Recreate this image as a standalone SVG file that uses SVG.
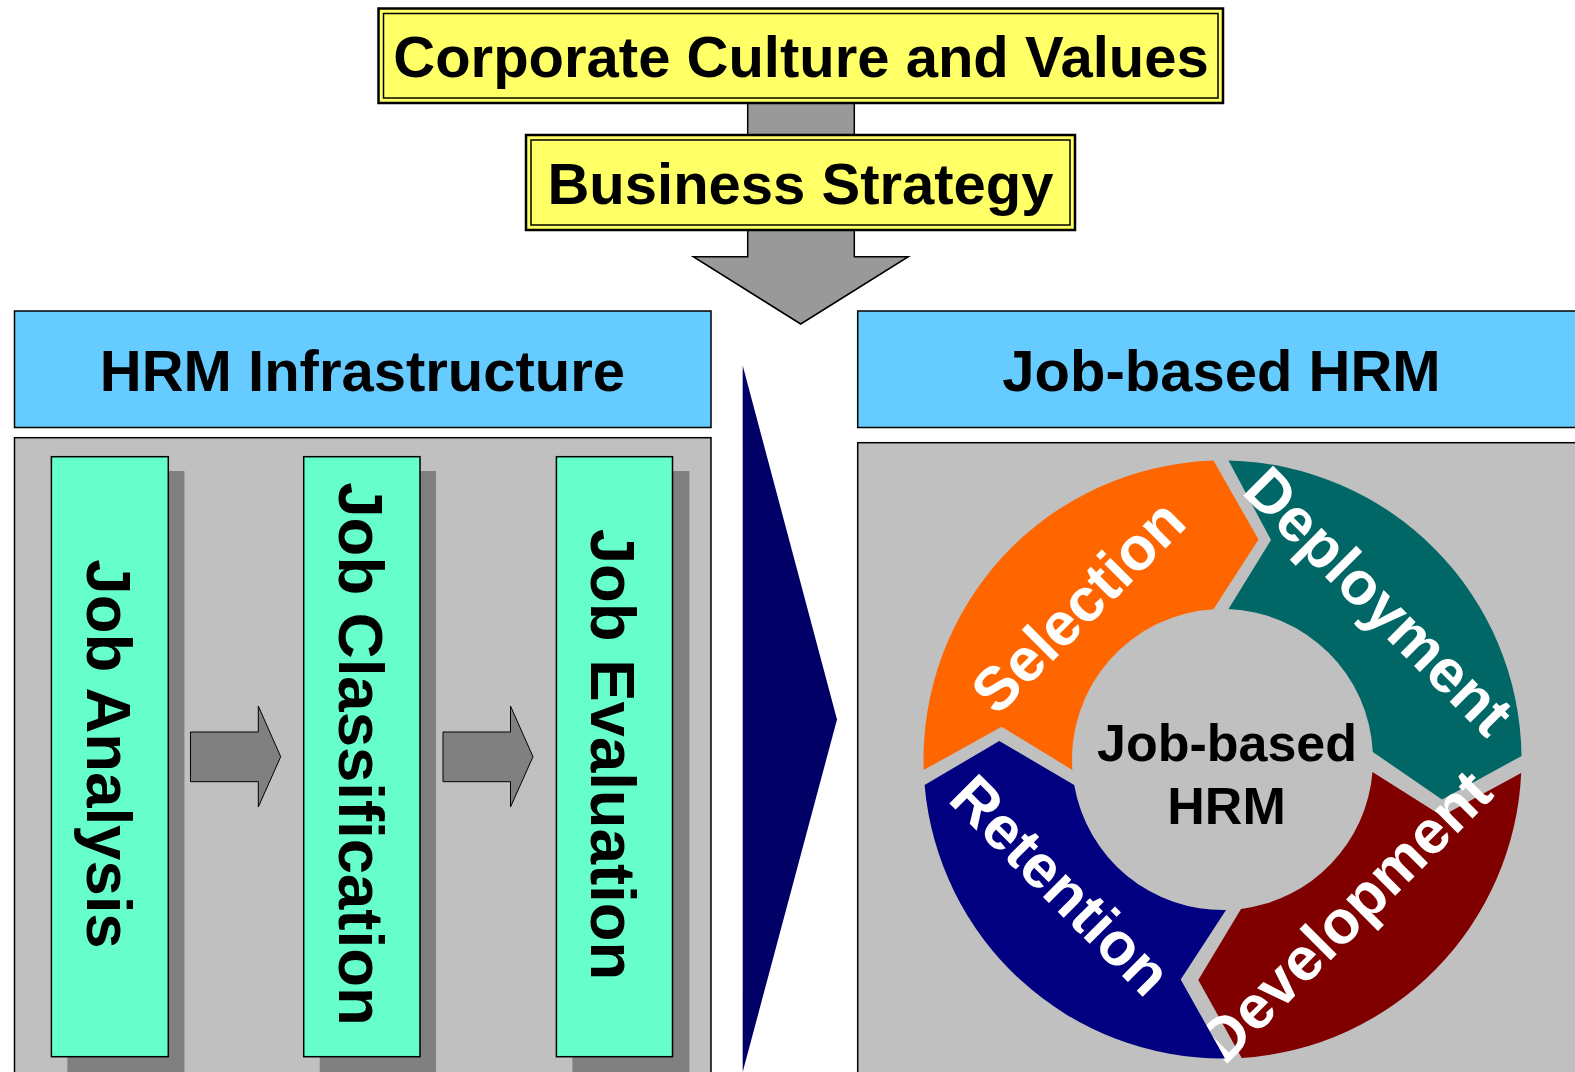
<svg xmlns="http://www.w3.org/2000/svg" width="1575" height="1072" viewBox="0 0 1575 1072">
<style>
text{font-family:"Liberation Sans",Arial,sans-serif;font-weight:bold;}
.ttl{font-size:58px;fill:#000;text-anchor:middle;}
.col{font-size:63.5px;fill:#000;text-anchor:middle;}
.ring{font-size:61px;fill:#fff;text-anchor:middle;}
.ctr{font-size:52px;fill:#000;text-anchor:middle;}
.yel{fill:#FFFF66;stroke:#000;}
.hdr{fill:#66CCFF;stroke:#000;stroke-width:1.5;}
.pnl{fill:#C0C0C0;stroke:#000;stroke-width:1.5;}
.colbox{fill:#66FFCC;stroke:#000;stroke-width:1.5;}
.shd{fill:#808080;}
.garr{fill:#999999;stroke:#000;stroke-width:1.5;stroke-linejoin:miter;}
.sarr{fill:#808080;stroke:#000;stroke-width:1;}
</style>

<g id="connectors">
  <rect class="garr" x="747.7" y="103" width="106.6" height="32"/>
  <path class="garr" d="M747.7,229 L747.7,256.7 L693.3,256.7 L800.7,324 L908.3,256.7 L854.3,256.7 L854.3,229"/>
  <path id="navy-arrow" d="M742.7,365.6 L837,719.4 L742.7,1072 Z" fill="#000066"/>
</g>

<g id="node-culture">
  <rect class="yel" x="378.5" y="8.5" width="844.5" height="94.5" stroke-width="2.5"/>
  <rect x="383.5" y="13.5" width="834.5" height="84.5" fill="none" stroke="#000" stroke-width="1.5"/>
  <text class="ttl" x="801" y="77.3">Corporate Culture and Values</text>
</g>

<g id="node-strategy">
  <rect class="yel" x="526" y="135" width="549" height="95" stroke-width="2.5"/>
  <rect x="531" y="140" width="539" height="85" fill="none" stroke="#000" stroke-width="1.5"/>
  <text class="ttl" x="800.5" y="204">Business Strategy</text>
</g>

<g id="node-hrm-infrastructure">
  <rect class="hdr" x="14.5" y="311" width="696.5" height="116.5"/>
  <text class="ttl" x="362.5" y="390.7">HRM Infrastructure</text>
  <rect class="pnl" x="14.5" y="437.7" width="696.5" height="650"/>
</g>

<g id="node-job-analysis">
  <rect class="shd" x="67.4" y="471" width="117" height="610"/>
  <rect class="colbox" x="51.4" y="456.7" width="116.9" height="600"/>
  <text class="col" transform="translate(87,754) rotate(90)">Job Analysis</text>
</g>
<g id="node-job-classification">
  <rect class="shd" x="319.7" y="471" width="116.3" height="610"/>
  <rect class="colbox" x="303.7" y="456.7" width="116.3" height="600"/>
  <text class="col" transform="translate(339,754) rotate(90)">Job Classification</text>
</g>
<g id="node-job-evaluation">
  <rect class="shd" x="572.4" y="471" width="117" height="610"/>
  <rect class="colbox" x="556.4" y="456.7" width="116.1" height="600"/>
  <text class="col" transform="translate(591,754.5) rotate(90)">Job Evaluation</text>
</g>

<g id="flow-arrows">
  <path class="sarr" d="M190.5,732 L258.3,732 L258.3,706 L280.7,756.7 L258.3,807 L258.3,781.7 L190.5,781.7 Z"/>
  <path class="sarr" d="M443,732 L510.5,732 L510.5,706 L533,756.7 L510.5,807 L510.5,781.7 L443,781.7 Z"/>
</g>

<g id="node-job-based-hrm">
  <rect class="hdr" x="857.7" y="311" width="740" height="116.5"/>
  <text class="ttl" x="1221.5" y="390.7">Job-based HRM</text>
  <rect class="pnl" x="857.7" y="442.7" width="740" height="650"/>
</g>

<g id="node-selection">
  <path fill="#FF6600" d="M923.7,770 A299,299 0 0 1 1213.5,460.6 L1258.5,539.5 L1213.5,609.3 A150.5,150.5 0 0 0 1072.4,770 L1001.7,726.7 Z"/>
  <text class="ring" transform="translate(1093,621) rotate(-45)">Selection</text>
</g>
<g id="node-deployment">
  <path fill="#006666" d="M1228.5,460.6 A299,299 0 0 1 1521.5,756 L1442,799.5 L1372.8,752 A150.5,150.5 0 0 0 1228.5,609.1 L1271,540 Z"/>
  <text class="ring" transform="translate(1364,616) rotate(45)">Deployment</text>
</g>
<g id="node-development">
  <path fill="#800000" d="M1521.2,773 A299,299 0 0 1 1241.7,1058 L1198.3,980 L1241,908.9 A150.5,150.5 0 0 0 1372.5,772 L1442,816 Z"/>
  <text class="ring" transform="translate(1360,931) rotate(-45)">Development</text>
</g>
<g id="node-retention">
  <path fill="#000080" d="M1225,1058.5 A299,299 0 0 1 924.6,785 L999.3,741 L1074.2,785 A150.5,150.5 0 0 0 1226,910 L1180.7,979.5 Z"/>
  <text class="ring" transform="translate(1046,900) rotate(45)">Retention</text>
</g>

<g id="node-center">
  <text class="ctr" x="1227" y="761">Job-based</text>
  <text class="ctr" x="1226.5" y="823.5">HRM</text>
</g>
</svg>
